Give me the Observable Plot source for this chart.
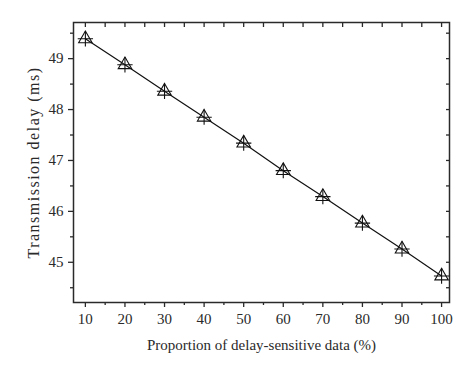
<!DOCTYPE html>
<html><head><meta charset="utf-8">
<script src="https://cdn.jsdelivr.net/npm/d3@7"></script>
<script src="https://cdn.jsdelivr.net/npm/@observablehq/plot@0.6"></script>
<style>body{margin:0;background:#fff;} svg{display:block;} .ylab text{letter-spacing:1.5px;}</style>
</head><body><div id="chart"></div>
<script>
const proportions = [10, 20, 30, 40, 50, 60, 70, 80, 90, 100];
const delays = [49.39, 48.88, 48.36, 47.85, 47.34, 46.80, 46.29, 45.77, 45.26, 44.73];
const xMajor = [10, 20, 30, 40, 50, 60, 70, 80, 90, 100];
const xMinor = [15, 25, 35, 45, 55, 65, 75, 85, 95];
const yMajor = [45, 46, 47, 48, 49];
const yMinor = [44.5, 45.5, 46.5, 47.5, 48.5, 49.5];
const xLabel = "Proportion of delay-sensitive data (%)";
const yLabel = "Transmission delay (ms)";

const data = proportions.map((p, i) => ({p, d: delays[i]}));
const ink = "#2a2a2a";
const plot = Plot.plot({
  width: 474, height: 374,
  marginLeft: 73, marginRight: 25, marginTop: 22, marginBottom: 72,
  style: {fontFamily: "'Liberation Serif', serif", fontSize: "15px", color: ink, background: "#fff"},
  x: {domain: [7, 102]},
  y: {domain: [44.21, 49.71]},
  marks: [
    Plot.axisX({ticks: xMajor, tickSize: 5, tickPadding: 6, tickFormat: d3.format("d"), stroke: ink, strokeWidth: 1.3, fontSize: 15, label: null}),
    Plot.axisX({ticks: xMinor, tickSize: 3, tickFormat: () => "", stroke: ink, strokeWidth: 1.3, label: null}),
    Plot.axisX({anchor: "top", ticks: xMajor.concat(xMinor), tickSize: -4, tickFormat: () => "", stroke: ink, strokeWidth: 1.3, label: null}),
    Plot.axisY({ticks: yMajor, tickSize: 5, tickPadding: 5, tickFormat: d3.format("d"), stroke: ink, strokeWidth: 1.3, fontSize: 15, label: null}),
    Plot.axisY({ticks: yMinor, tickSize: 3, tickFormat: () => "", stroke: ink, strokeWidth: 1.3, label: null}),
    Plot.axisY({anchor: "right", ticks: yMajor.concat(yMinor), tickSize: -4, tickFormat: () => "", stroke: ink, strokeWidth: 1.3, label: null}),
    Plot.frame({stroke: ink, strokeWidth: 1.5}),
    Plot.line(data, {x: "p", y: "d", stroke: "#111", strokeWidth: 1.2}),
    Plot.dot(data, {x: "p", y: "d", symbol: "triangle", r: 5, stroke: "#111", fill: "none", strokeWidth: 1.1}),
    Plot.dot(data, {x: "p", y: "d", symbol: "plus", r: 5, stroke: "#111", strokeWidth: 1.1}),
    Plot.text([xLabel], {frameAnchor: "bottom", dy: 47, text: d => d, fontSize: 15, fill: ink}),
    Plot.text([yLabel], {frameAnchor: "left", textAnchor: "middle", dx: -40, rotate: -90, text: d => d, fontSize: 16, fill: ink, className: "ylab"})
  ]
});
document.getElementById("chart").append(plot);
</script>
</body></html>
